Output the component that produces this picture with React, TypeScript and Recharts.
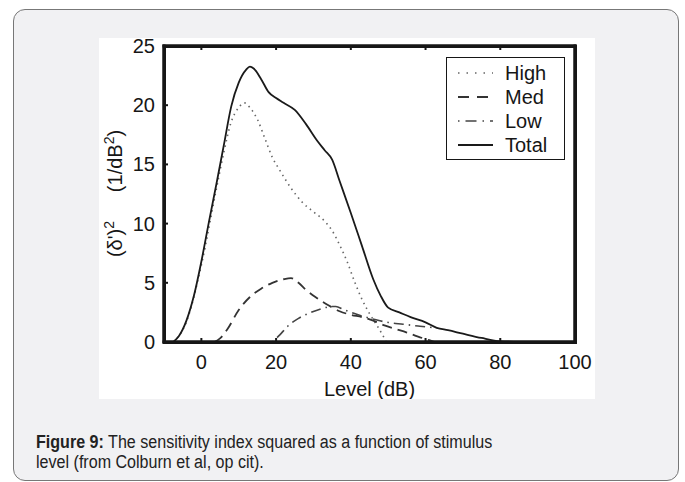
import React from 'react';
import { LineChart, Line, XAxis, YAxis, Legend, ReferenceArea } from 'recharts';

// ---- data ----
const totalX = [-7.5, -6, -4, -2, 0, 2, 4, 6, 8, 10, 12, 13, 14, 16, 18, 20, 22, 25, 28, 31, 33, 35, 37, 40, 43, 46, 48, 50, 53, 56, 60, 63, 66, 70, 75, 80, 85];
const totalY = [0, 0.5, 1.8, 3.9, 6.8, 10.1, 13.3, 16.6, 19.9, 21.9, 23.0, 23.25, 23.1, 22.2, 21.1, 20.6, 20.2, 19.6, 18.4, 17.0, 16.2, 15.4, 13.6, 10.9, 8.1, 5.3, 3.9, 2.9, 2.5, 2.1, 1.66, 1.2, 1.0, 0.7, 0.34, 0.06, 0];

const highX = [-7.5, -4, 0, 4, 6, 8, 10, 11.5, 13, 15, 17, 19, 21, 24, 27, 30, 33, 35, 37, 39, 41, 43, 45, 47, 48.5, 49.5];
const highY = [0, 1.7, 6.5, 12.9, 16.0, 18.6, 19.8, 20.2, 19.8, 18.8, 17.2, 15.6, 14.5, 13.0, 11.8, 11.0, 10.2, 9.4, 8.2, 6.8, 5.1, 3.6, 2.4, 1.4, 0.6, 0];

const medX = [3.5, 5, 7, 10, 13, 16, 19, 22, 24, 26, 28, 31, 34, 37, 40, 43, 46, 49, 52, 55, 58, 61, 62.5];
const medY = [0, 0.3, 1.1, 2.7, 3.8, 4.5, 5.0, 5.3, 5.4, 5.0, 4.4, 3.7, 3.1, 2.6, 2.3, 2.1, 1.8, 1.4, 1.1, 0.8, 0.45, 0.15, 0];

const lowX = [19, 21, 23, 26, 29, 32, 35, 36, 38, 41, 44, 47, 50, 54, 58, 61, 63];
const lowY = [0, 0.6, 1.3, 2.0, 2.45, 2.8, 3.0, 3.0, 2.75, 2.4, 2.1, 1.85, 1.65, 1.5, 1.35, 1.25, 1.2];

const seriesNames = ['High', 'Med', 'Low', 'Total'];
const xTicks = [0, 20, 40, 60, 80, 100];
const yTicks = [0, 5, 10, 15, 20, 25];
const xDomain = [-10, 100];
const yDomain = [0, 25];

const toPts = (xs: number[], ys: number[]) => xs.map((x, i) => ({ x, y: ys[i] }));
const totalData = toPts(totalX, totalY);
const highData = toPts(highX, highY);
const medData = toPts(medX, medY);
const lowData = toPts(lowX, lowY);

const FONT = "'Liberation Sans', Arial, Helvetica, sans-serif";
const INK = '#161616';
const TICK = 4;

const CW = 496;
const CH = 361;
const M = { top: 7, right: 19, bottom: 0, left: 0 };
const Y_AXIS_W = 65;
const X_AXIS_H = 57;

const BottomTick = (p: any) => {
  const { x, y, payload } = p;
  const inner = payload.value > xDomain[0] && payload.value < xDomain[1];
  return (
    <g>
      {inner && <line x1={x} x2={x} y1={y} y2={y - TICK} stroke={INK} strokeWidth={2} />}
      <text x={x} y={y + 27} textAnchor="middle" fontSize={20} fontFamily={FONT} fill={INK}>
        {payload.value}
      </text>
    </g>
  );
};
const TopTick = (p: any) => {
  const { x, y, payload } = p;
  if (!(payload.value > xDomain[0] && payload.value < xDomain[1])) return <g />;
  return <line x1={x} x2={x} y1={y} y2={y + TICK} stroke={INK} strokeWidth={2} />;
};
const LeftTick = (p: any) => {
  const { x, y, payload } = p;
  const inner = payload.value > yDomain[0] && payload.value < yDomain[1];
  return (
    <g>
      {inner && <line x1={x} x2={x + TICK} y1={y} y2={y} stroke={INK} strokeWidth={2} />}
      <text x={x - 9} y={y + 7} textAnchor="end" fontSize={20} fontFamily={FONT} fill={INK}>
        {payload.value}
      </text>
    </g>
  );
};
const RightTick = (p: any) => {
  const { x, y, payload } = p;
  if (!(payload.value > yDomain[0] && payload.value < yDomain[1])) return <g />;
  return <line x1={x} x2={x - TICK} y1={y} y2={y} stroke={INK} strokeWidth={2} />;
};

const YLabel = (p: any) => {
  const vb = p.viewBox || { x: 0, y: 8, width: 65, height: 296 };
  const bx = vb.x + 23;
  const cy = vb.y + vb.height / 2;
  const y1 = cy + 45;
  const y2 = cy - 33;
  return (
    <g fontFamily={FONT} fontSize={20} fill={INK}>
      <text x={bx} y={y1} textAnchor="middle" transform={`rotate(-90, ${bx}, ${y1})`}>
        (δ')<tspan dy={-8} fontSize={14}>2</tspan>
      </text>
      <text x={bx} y={y2} textAnchor="middle" transform={`rotate(-90, ${bx}, ${y2})`}>
        (1/dB<tspan dy={-8} fontSize={14}>2</tspan><tspan dy={8}>)</tspan>
      </text>
    </g>
  );
};

const XLabel = (p: any) => {
  const vb = p.viewBox || { x: 65, y: 304, width: 411, height: 57 };
  return (
    <text x={vb.x + vb.width / 2} y={vb.y + 54} textAnchor="middle" fontSize={20} fontFamily={FONT} fill={INK}>
      Level (dB)
    </text>
  );
};

const styleByName: Record<string, { dash?: string; legendDash?: string; w: number; c: string }> = {
  High: { dash: '1.5 4', legendDash: '1.5 7', w: 1.6, c: '#666' },
  Med: { dash: '10 6', legendDash: '11 8', w: 1.8, c: '#333' },
  Low: { dash: '1.5 5 10 5', legendDash: '1.5 6 11 6', w: 1.6, c: '#444' },
  Total: { w: 1.8, c: '#1a1a1a' },
};

const LegendBox = (props: any) => {
  const payload = [...(props.payload || [])].sort(
    (a: any, b: any) => seriesNames.indexOf(a.value) - seriesNames.indexOf(b.value)
  );
  return (
    <div
      style={{
        width: 119,
        height: 103,
        boxSizing: 'border-box',
        border: `1.5px solid ${INK}`,
        background: '#fff',
        paddingTop: 3,
      }}
    >
      {payload.map((e: any) => {
        const s = styleByName[e.value] || { w: 1.5, c: INK };
        return (
          <div key={e.value} style={{ height: 24, display: 'flex', alignItems: 'center' }}>
            <svg width={58} height={24} style={{ display: 'block' }}>
              <line x1={11} x2={46} y1={12} y2={12} stroke={s.c} strokeWidth={s.w} strokeDasharray={s.legendDash} />
            </svg>
            <span style={{ fontFamily: FONT, fontSize: 20, color: INK, lineHeight: '24px' }}>{e.value}</span>
          </div>
        );
      })}
    </div>
  );
};

const axisLineStyle = { stroke: INK, strokeWidth: 3, strokeLinecap: 'square' as const };

const plotLeft = M.left + Y_AXIS_W;
const plotTop = M.top + 1;
const plotRight = CW - M.right - 1;
const plotBottom = CH - M.bottom - X_AXIS_H;

export default function App() {
  return (
    <div style={{ position: 'fixed', left: 0, top: 0, width: 685, height: 482, background: '#fff', overflow: 'hidden' }}>
      <div
        style={{
          position: 'absolute',
          left: 13,
          top: 9,
          width: 666,
          height: 472,
          boxSizing: 'border-box',
          border: '1px solid #777',
          borderRadius: 12,
          background: '#f1f1f3',
        }}
      />
      <div style={{ position: 'absolute', left: 99, top: 38, width: CW, height: CH, background: '#fff' }}>
        <LineChart width={CW} height={CH} data={totalData} margin={M}>
          <XAxis
            xAxisId="b"
            type="number"
            dataKey="x"
            domain={xDomain}
            ticks={xTicks}
            interval={0}
            tickSize={0}
            tickMargin={0}
            tickLine={false}
            height={X_AXIS_H}
            stroke={INK}
            tick={<BottomTick />}
            axisLine={axisLineStyle}
            label={{ content: <XLabel /> } as any}
          />
          <XAxis
            xAxisId="t"
            orientation="top"
            type="number"
            dataKey="x"
            domain={xDomain}
            ticks={xTicks}
            interval={0}
            tickSize={0}
            tickMargin={0}
            tickLine={false}
            height={1}
            stroke={INK}
            tick={<TopTick />}
            axisLine={axisLineStyle}
          />
          <YAxis
            yAxisId="l"
            type="number"
            domain={yDomain}
            ticks={yTicks}
            interval={0}
            tickSize={0}
            tickMargin={0}
            tickLine={false}
            width={Y_AXIS_W}
            stroke={INK}
            tick={<LeftTick />}
            axisLine={axisLineStyle}
            label={{ content: <YLabel /> } as any}
          />
          <YAxis
            yAxisId="r"
            orientation="right"
            type="number"
            domain={yDomain}
            ticks={yTicks}
            interval={0}
            tickSize={0}
            tickMargin={0}
            tickLine={false}
            width={1}
            stroke={INK}
            tick={<RightTick />}
            axisLine={axisLineStyle}
          />
          <ReferenceArea
            xAxisId="b"
            yAxisId="l"
            x1={xDomain[0]}
            x2={xDomain[1]}
            y1={yDomain[0]}
            y2={yDomain[1]}
            fill="none"
            fillOpacity={0}
            stroke={INK}
            strokeWidth={3}
            ifOverflow="visible"
          />
          <Legend
            content={<LegendBox />}
            layout="vertical"
            verticalAlign="middle"
            align="center"
            wrapperStyle={{ top: 19, left: 347, width: 119, right: 'auto', bottom: 'auto' }}
          />
          <Line
            name="High"
            data={highData}
            dataKey="y"
            xAxisId="b"
            yAxisId="l"
            type="monotone"
            stroke={styleByName.High.c}
            strokeWidth={styleByName.High.w}
            strokeDasharray={styleByName.High.dash}
            dot={false}
            activeDot={false}
            isAnimationActive={false}
          />
          <Line
            name="Med"
            data={medData}
            dataKey="y"
            xAxisId="b"
            yAxisId="l"
            type="monotone"
            stroke={styleByName.Med.c}
            strokeWidth={styleByName.Med.w}
            strokeDasharray={styleByName.Med.dash}
            dot={false}
            activeDot={false}
            isAnimationActive={false}
          />
          <Line
            name="Low"
            data={lowData}
            dataKey="y"
            xAxisId="b"
            yAxisId="l"
            type="monotone"
            stroke={styleByName.Low.c}
            strokeWidth={styleByName.Low.w}
            strokeDasharray={styleByName.Low.dash}
            dot={false}
            activeDot={false}
            isAnimationActive={false}
          />
          <Line
            name="Total"
            dataKey="y"
            xAxisId="b"
            yAxisId="l"
            type="monotone"
            stroke={styleByName.Total.c}
            strokeWidth={styleByName.Total.w}
            dot={false}
            activeDot={false}
            isAnimationActive={false}
          />
        </LineChart>
        <div
          style={{
            position: 'absolute',
            left: plotLeft - 1.5,
            top: plotTop - 1.5,
            width: plotRight - plotLeft + 3,
            height: plotBottom - plotTop + 3,
            boxSizing: 'border-box',
            border: `3px solid ${INK}`,
            pointerEvents: 'none',
          }}
        />
      </div>
      <div
        style={{
          position: 'absolute',
          left: 36,
          top: 432,
          fontFamily: FONT,
          fontSize: 18,
          lineHeight: '20px',
          color: '#222',
          whiteSpace: 'nowrap',
          transform: 'scaleX(0.893)',
          transformOrigin: 'left top',
        }}
      >
        <b>Figure 9:</b> The sensitivity index squared as a function of stimulus
        <br />
        level (from Colburn et al, op cit).
      </div>
    </div>
  );
}
